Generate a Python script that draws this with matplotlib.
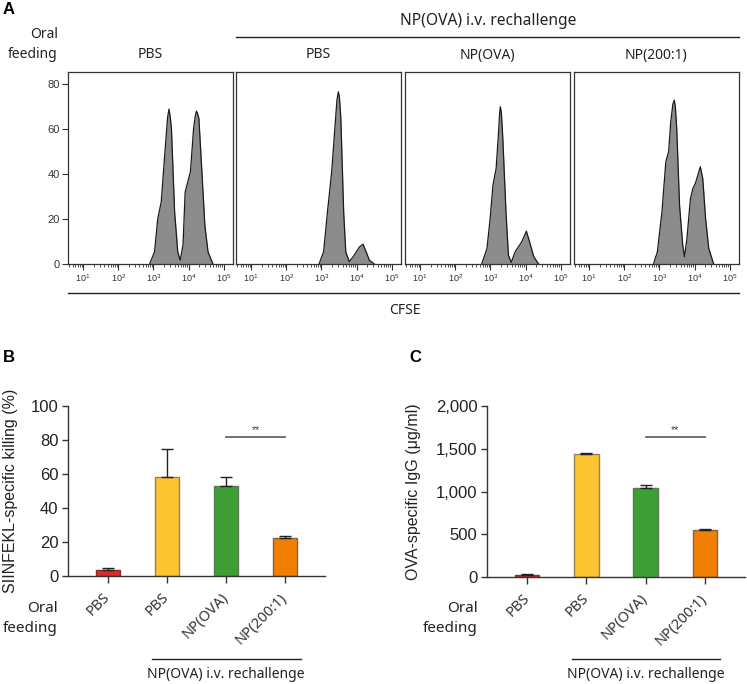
import numpy as np
import matplotlib
matplotlib.use('Agg')
import matplotlib.pyplot as plt
from matplotlib.lines import Line2D
from matplotlib.ticker import FixedLocator, LogLocator, FuncFormatter, NullFormatter

# ---- panel A: CFSE histograms (log10 CFSE, cell count)
hist_titles = ['PBS', 'PBS', 'NP(OVA)', 'NP(200:1)']
pbs_log = [2.89, 3.03, 3.12, 3.22, 3.34, 3.40, 3.44, 3.47, 3.51, 3.60, 3.69, 3.76, 3.84, 3.90, 3.95,
           4.05, 4.14, 4.19, 4.22, 4.25, 4.29, 4.36, 4.46, 4.55, 4.69]
pbs_cnt = [0, 5.4, 20, 27.6, 52.8, 65, 68.8, 66, 60.2, 23.3, 5.4, 1.7, 8.6, 32, 35,
           41, 60.2, 66, 67.9, 67, 64.7, 45.4, 17.2, 5.4, 0]
re_pbs_log = [2.93, 3.06, 3.17, 3.29, 3.38, 3.44, 3.48, 3.51, 3.55, 3.63, 3.69, 3.79, 3.93, 4.08,
              4.18, 4.27, 4.36, 4.50]
re_pbs_cnt = [0, 5.4, 23.2, 41, 60.2, 73, 76.5, 74, 64.7, 23.2, 5.4, 1.0, 3.9, 7.6,
              8.8, 5.4, 1.7, 0]
re_ova_log = [2.75, 2.90, 2.99, 3.07, 3.16, 3.23, 3.26, 3.28, 3.31, 3.35, 3.44, 3.51, 3.59, 3.70,
              3.89, 4.02, 4.11, 4.23, 4.37]
re_ova_cnt = [0, 6.9, 20.2, 35, 42.4, 58.7, 67, 69.9, 67, 55.8, 23.2, 3.9, 0.7, 5.4,
              9.9, 14.6, 9.9, 3.2, 0]
re_200_log = [2.83, 2.94, 3.07, 3.18, 3.26, 3.32, 3.38, 3.42, 3.45, 3.49, 3.57, 3.66, 3.71, 3.78,
              3.88, 3.95, 4.02, 4.09, 4.16, 4.23, 4.31, 4.40, 4.54]
re_200_cnt = [0, 5.4, 23.2, 45.4, 49.9, 63.2, 71, 72.8, 70, 60.2, 26.1, 8.4, 3.2, 11.3,
              29.1, 33.6, 35.8, 39.5, 43.2, 38, 20.2, 6.9, 0]

# ---- panels B and C
groups = ['PBS', 'PBS', 'NP(OVA)', 'NP(200:1)']
killing = [3.5, 58.4, 52.9, 22.2]
killing_err = [1.0, 16.1, 5.1, 1.3]
igg = [25, 1435, 1037, 550]
igg_err = [5, 15, 43, 11]
bar_colors = ['#e02a2a', '#fdc431', '#3d9e36', '#f07f02']
edge_colors = ['#8a3030', '#9a8050', '#5a7a55', '#8a6040']

W, H = 747, 684
fig = plt.figure(figsize=(W / 100, H / 100), dpi=100)
plt.rcParams['font.family'] = ['Liberation Sans', 'DejaVu Sans']
plt.rcParams['mathtext.default'] = 'regular'
LAB = ['Noto Sans', 'DejaVu Sans']


def add_ax(x0, y0, x1, y1):
    return fig.add_axes([x0 / W, 1 - y1 / H, (x1 - x0) / W, (y1 - y0) / H])


def ftext(x, y, s, **kw):
    fig.text(x / W, 1 - y / H, s, **kw)


def fline(x0, x1, y, color='#222222', lw=1.0):
    fig.add_artist(Line2D([x0 / W, x1 / W], [1 - y / H, 1 - y / H], color=color, lw=lw,
                          transform=fig.transFigure))


# ---------------- A
ftext(9, 10, 'A', fontsize=12, fontweight='bold', ha='center', va='center')
hists = [(pbs_log, pbs_cnt), (re_pbs_log, re_pbs_cnt), (re_ova_log, re_ova_cnt), (re_200_log, re_200_cnt)]
lefts = [68, 236, 405, 574]
for i, (lg, cnt) in enumerate(hists):
    ax = add_ax(lefts[i], 72, lefts[i] + 165, 264)
    x = 10 ** np.array(lg)
    ax.fill_between(x, cnt, color='#8c8c8c', lw=0)
    ax.plot(x, cnt, color='#1a1a1a', lw=0.9, solid_joinstyle='round')
    ax.set_xscale('log')
    ax.set_xlim(10 ** 0.57, 10 ** 5.26)
    ax.set_ylim(0, 85.3)
    ax.xaxis.set_major_locator(FixedLocator([1e1, 1e2, 1e3, 1e4, 1e5]))
    ax.xaxis.set_major_formatter(FuncFormatter(lambda v, p: '$10^{%d}$' % round(np.log10(v))))
    ax.xaxis.set_minor_locator(LogLocator(base=10, subs=np.arange(2, 10)))
    ax.xaxis.set_minor_formatter(NullFormatter())
    ax.tick_params(which='major', length=4, width=0.8, labelsize=6.5, pad=2, colors='#333333')
    ax.tick_params(axis='y', labelsize=8)
    ax.tick_params(which='minor', length=2, width=0.6, colors='#333333')
    if i == 0:
        ax.set_yticks([0, 20, 40, 60, 80])
    else:
        ax.set_yticks([])
    for s in ax.spines.values():
        s.set_color('#333333')
        s.set_linewidth(0.9)
    ftext(lefts[i] + 82, 55, hist_titles[i], fontsize=10, ha='center', va='center', family=LAB, color='#222222')

ftext(58, 35, 'Oral', fontsize=10, ha='right', va='center', family=LAB, color='#222222')
ftext(58, 55, 'feeding', fontsize=10, ha='right', va='center', family=LAB, color='#222222')
ftext(488, 21, 'NP(OVA) i.v. rechallenge', fontsize=11.2, ha='center', va='center', family=LAB, color='#222222')
fline(236, 739, 37)
fline(68, 739, 293)
ftext(405, 310, 'CFSE', fontsize=10, ha='center', va='center', family=LAB, color='#222222')


# ---------------- B and C
def bar_panel(ax, vals, errs, ymax, yticks, ylabel, sig_y, label_x, fmt=None):
    xs = np.arange(len(vals))
    ax.bar(xs, vals, width=0.41, color=bar_colors, edgecolor=edge_colors, linewidth=1, zorder=2)
    ax.errorbar(xs, vals, yerr=[np.zeros(len(vals)), errs], fmt='none', ecolor='#222222',
                elinewidth=1, capsize=4, capthick=1, zorder=3)
    ax.set_xlim(-0.68, 3.68)
    ax.set_ylim(0, ymax)
    ax.set_yticks(yticks)
    if fmt:
        ax.yaxis.set_major_formatter(FuncFormatter(fmt))
    ax.set_xticks(xs)
    ax.set_xticklabels(groups, rotation=45, ha='right', va='center', rotation_mode='anchor',
                       fontsize=10.5, family=LAB, color='#222222')
    ax.tick_params(axis='y', length=4, width=1, labelsize=12, pad=3, colors='#333333')
    ax.tick_params(axis='x', length=5, width=1, pad=9, colors='#333333')
    for lab in ax.get_yticklabels():
        lab.set_color('#222222')
    for s in ['top', 'right']:
        ax.spines[s].set_visible(False)
    for s in ['left', 'bottom']:
        ax.spines[s].set_color('#333333')
        ax.spines[s].set_linewidth(1)
    ax.set_ylabel(ylabel, fontsize=11.5, color='#222222')
    ax.yaxis.set_label_coords(label_x, 0.5)
    ax.plot([2, 3], [sig_y, sig_y], color='#666666', lw=1.3, zorder=3)
    ax.annotate('**', (2.5, sig_y), xytext=(0, 1.5), textcoords='offset points',
                ha='center', va='bottom', fontsize=7.5, color='#444444')


axB = add_ax(68, 406, 325, 576)
bar_panel(axB, killing, killing_err, 100, [0, 20, 40, 60, 80, 100],
          'SIINFEKL-specific killing (%)', 81.8, -0.195)
axC = add_ax(487, 406, 745, 577)
bar_panel(axC, igg, igg_err, 2000, [0, 500, 1000, 1500, 2000],
          'OVA-specific IgG (\u03bcg/ml)', 1641, -0.255, fmt=lambda v, p: f'{int(v):,}')

ftext(9, 358, 'B', fontsize=12, fontweight='bold', ha='center', va='center')
ftext(415, 358, 'C', fontsize=12, fontweight='bold', ha='center', va='center')
for right, lx0, lx1, cx in [(58, 152, 301, 226), (478, 572, 720, 646)]:
    ftext(right, 608, 'Oral', fontsize=11, ha='right', va='center', family=LAB, color='#222222')
    ftext(right, 628, 'feeding', fontsize=11, ha='right', va='center', family=LAB, color='#222222')
    fline(lx0, lx1, 659)
    ftext(cx, 674, 'NP(OVA) i.v. rechallenge', fontsize=10, ha='center', va='center', family=LAB, color='#222222')

fig.savefig('out.png', dpi=100)
